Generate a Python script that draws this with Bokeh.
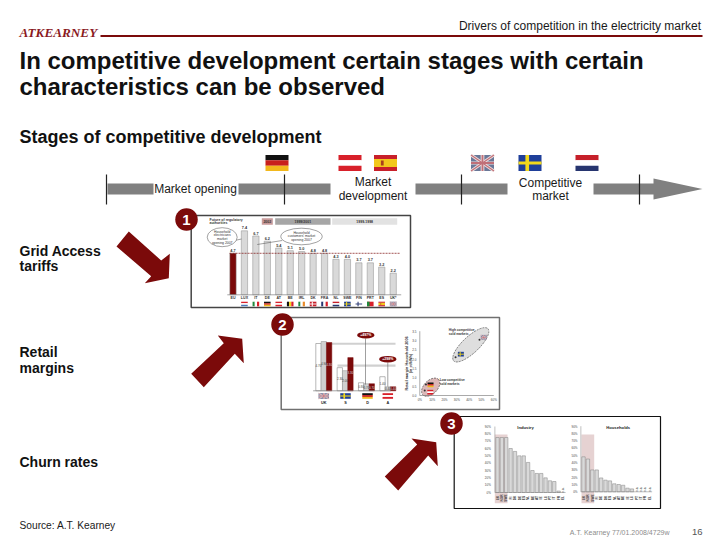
from math import pi
from bokeh.plotting import figure
from bokeh.models import Range1d
from bokeh.core.properties import value
from bokeh.embed import file_html
from bokeh.resources import INLINE

W, H = 720, 540
OFF = 0
DARK = "#7b0a0a"

# ---- data ----
p1_cats = ["EU", "LUX", "IT", "DE", "AT", "BE", "IRL", "DK", "FRA", "NL", "SWE", "FIN", "PRT", "ES", "UK*"]
p1_vals = [4.8, 7.4, 6.8, 6.2, 5.4, 5.1, 5.0, 4.8, 4.8, 4.1, 4.1, 3.7, 3.7, 3.2, 2.5]
p1_labels = ["4.7", "7.4", "6.7", "6.2", "5.4", "5.1", "5.0", "4.8", "4.8", "4.3", "4.0", "3.7", "3.7", "3.2", "2.2"]
p1_flags = [None, "LU", "IT", "DE", "AT", "BE", "IE", "DK", "FR", "NL", "SE", "FI", "PT", "ES", "GB"]

p2_cats = ["UK", "S", "D", "A"]
p2_flags = ["GB", "SE", "DE", "AT"]
p2_white = [4.7, 2.3, 0.8, 1.4]
p2_gray = [4.9, 2.0, 0.7, 0.4]
p2_red = [4.8, 3.3, 0.7, 0.4]

sc_xticks = [0, 10, 20, 30, 40, 50, 60]
sc_yticks = [0, 0.5, 1.0, 1.5, 2.0, 2.5, 3.0, 3.5]
sc_flag_x = [51.9, 33.3, 8.7, 8.5]
sc_flag_y = [3.17, 2.25, 0.58, 0.18]
sc_flag_c = ["GB", "SE", "DE", "AT"]
sc_dot_x = [48.4, 29.0, 4.0, 5.0]
sc_dot_y = [3.03, 2.08, 0.27, 0.6]

p3_ticks = [0, 10, 20, 30, 40, 50, 60, 70, 80, 90]
ind_cats = ["UK", "NOR", "SWE", "FI", "DK", "DE", "ES", "NL", "BE", "AT", "IE", "LU", "PT", "IT", "FR", "EL"]
ind_vals = [75, 75, 75, 60, 56, 50, 50, 41, 30, 26, 26, 20, 16, 15, 2, 0]
hh_cats = ["UK", "NOR", "SWE", "FI", "DE", "DK", "ES", "NL", "AT", "BE", "IE", "LU", "PT", "IT", "FR", "EL"]
hh_vals = [48, 45, 30, 30, 19, 16, 15, 11, 10, 9, 5, 4, 0, 0, 0, 0]

# ---- canvas: main range is reference pixels ----
p = figure(width=W, height=H, output_backend="svg", toolbar_location=None,
           x_range=Range1d(OFF, OFF + W), y_range=Range1d(OFF + H, OFF),
           x_axis_location=None, y_axis_location=None, min_border=0,
           background_fill_color="white", border_fill_color="white")
p.grid.visible = False
p.outline_line_color = None


def xr(v0, p0, v1, p1):
    k = (v1 - v0) / (p1 - p0)
    return Range1d(v0 + (OFF - p0) * k, v0 + (OFF + W - p0) * k)


def yr(v0, p0, v1, p1):
    k = (v1 - v0) / (p1 - p0)
    return Range1d(v0 + (OFF + H - p0) * k, v0 + (OFF - p0) * k)


p.extra_x_ranges = {
    "p1": xr(0, 232.5, 14, 392.7), "p2": xr(0, 323.3, 3, 387.3),
    "sc": xr(0, 419.3, 60, 493.3), "ind": xr(0, 497, 15, 562.5),
    "hh": xr(0, 583, 15, 649),
}
p.extra_y_ranges = {
    "p1": yr(0, 294.3, 7.4, 230.3), "p2": yr(0, 390.3, 4.9, 341),
    "sc": yr(0, 395, 3.5, 330.7), "ind": yr(0, 492, 90, 426),
    "hh": yr(0, 491.3, 90, 425.7),
}


def t(x, y, s, size, color="#1a1a1a", bold=False, align="left", font="Liberation Sans",
      angle=0, italic=False, **kw):
    style = "bold italic" if bold and italic else "bold" if bold else "italic" if italic else "normal"
    p.text([x], [y], text=[s], text_font=value(font), text_font_size=f"{size}px",
           text_color=color, text_font_style=style, text_align=align,
           text_baseline="middle", angle=angle, **kw)


def rect(x0, y0, x1, y1, fill, line=None, lw=0.5):
    p.quad(left=[x0], right=[x1], top=[y0], bottom=[y1], fill_color=fill,
           line_color=line, line_width=lw)


def flag(code, cx, cy, w, h):
    x0, y0, x1, y1 = cx - w / 2, cy - h / 2, cx + w / 2, cy + h / 2
    def hb(*cols):
        for i, c in enumerate(cols):
            rect(x0, y0 + h * i / len(cols), x1, y0 + h * (i + 1) / len(cols), c)
    def vb(*cols):
        for i, c in enumerate(cols):
            rect(x0 + w * i / len(cols), y0, x0 + w * (i + 1) / len(cols), y1, c)
    def cross(bg, fg):
        rect(x0, y0, x1, y1, bg)
        rect(x0 + w * 0.3, y0, x0 + w * 0.46, y1, fg)
        rect(x0, y0 + h * 0.4, x1, y0 + h * 0.6, fg)
    if code == "DE": hb("#111111", "#c8201c", "#f2b81c")
    elif code == "AT": hb("#d8202a", "#ffffff", "#d8202a")
    elif code == "NL": hb("#c6202a", "#ffffff", "#27356f")
    elif code == "LU": hb("#d8202a", "#ffffff", "#4b78b8")
    elif code == "IT": vb("#1f8a3c", "#ffffff", "#d8202a")
    elif code == "BE": vb("#111111", "#f2d81c", "#d8202a")
    elif code == "IE": vb("#1f8a3c", "#ffffff", "#e88a2a")
    elif code == "FR": vb("#27356f", "#ffffff", "#d8202a")
    elif code == "PT":
        rect(x0, y0, x1, y1, "#d8202a"); rect(x0, y0, x0 + w * 0.4, y1, "#1f8a3c")
    elif code == "DK": cross("#c8202a", "#ffffff")
    elif code == "FI": cross("#ffffff", "#27356f")
    elif code == "SE": cross("#1f3f9a", "#f2d81c")
    elif code == "ES":
        hb("#c8202a", "#f2c81c", "#f2c81c", "#c8202a")
        rect(x0 + w * 0.3, cy - h * 0.15, x0 + w * 0.42, cy + h * 0.15, "#a8401c")
    elif code == "GB":
        rect(x0, y0, x1, y1, "#6a7898")
        p.multi_line([[x0, x1], [x0, x1]], [[y0, y1], [y1, y0]], line_color="#f0e0e0", line_width=h * 0.18)
        rect(x0 + w * 0.42, y0, x0 + w * 0.58, y1, "#f0e0e0")
        rect(x0, y0 + h * 0.4, x1, y0 + h * 0.6, "#f0e0e0")
        p.multi_line([[x0, x1], [x0, x1]], [[y0, y1], [y1, y0]], line_color="#c07078", line_width=h * 0.08)
        rect(x0 + w * 0.46, y0, x0 + w * 0.54, y1, "#c07078")
        rect(x0, y0 + h * 0.44, x1, y0 + h * 0.56, "#c07078")


def badge(cx, cy, s):
    p.ellipse([cx], [cy], width=22.5, height=22.5, fill_color=DARK, line_color=None)
    t(cx, cy + 0.5, s, 15, "white", True, "center")


def poly(xs, ys):
    p.patch(xs, ys, fill_color=DARK, line_color=None)


# ---- header ----
t(700.5, 25, "Drivers of competition in the electricity market", 12, "#1a1a1a", align="right")
t(19, 32, "ATKEARNEY", 13.2, "#8a1a1e", True, font="Liberation Serif", italic=True)
p.line([100, 702], [35.5, 35.5], line_color=DARK, line_width=2)
t(19, 60, "In competitive development certain stages with certain", 24, "#111111", True)
t(19, 85.5, "characteristics can be observed", 24, "#111111", True)
t(19, 136, "Stages of competitive development", 18, "#111111", True)

# ---- timeline ----
G = "#808080"
for a, b in [(107, 153), (238, 330), (415, 507), (593, 654)]:
    rect(a, 183, b, 194, G)
p.patch([653, 653, 702, 653], [178, 199, 188.5, 178], fill_color=G, line_color=None)
for x in (106, 284, 461, 639):
    p.line([x, x], [174, 204], line_color="#222222", line_width=1.2)
t(195, 188.5, "Market opening", 12, align="center")
t(372.5, 181.5, "Market", 12, align="center")
t(372.5, 195, "development", 12, align="center")
t(550, 182, "Competitive", 12, align="center")
t(550, 195, "market", 12, align="center")
for c, x in zip(["DE", "AT", "ES", "GB", "SE", "NL"], [276.5, 349.5, 385, 482, 529.5, 586.5]):
    flag(c, x, 162.5, 23, 16)

# ---- side labels ----
for x, y, s in [(19, 250, "Grid Access"), (19, 265, "tariffs"), (19, 351, "Retail"), (19, 367, "margins"), (19, 461, "Churn rates")]:
    t(x, y, s, 14, "#111111", True)
t(19, 525, "Source: A.T. Kearney", 10.2)
t(669, 532, "A.T. Kearney 77/01.2008/4729w", 7, "#8c8c8c", align="right")
t(702, 531, "16", 9.5, "#555555", align="right")

# ---- arrows ----
poly([128.3, 160.7, 169.3, 168.3, 144.3, 150.7, 116], [231, 260, 253.3, 277.7, 282.7, 275.7, 246])
poly([190.7, 203.3, 234.3, 243.3, 241.7, 217.3, 223.3], [373.3, 386.7, 353.3, 362.7, 338.3, 335, 342.7])
poly([384.3, 397.7, 427.7, 437.3, 435.7, 411, 416.7], [476, 490, 455, 465.7, 441.7, 438, 444])

# ---- panel frames ----
p.quad(left=[190.7], right=[410], top=[215], bottom=[307], fill_color="white", line_color="#444444", line_width=1.5)
p.quad(left=[280.7], right=[499], top=[317], bottom=[409], fill_color="white", line_color="#707070", line_width=1.5)
p.quad(left=[453.7], right=[660], top=[416], bottom=[508], fill_color="white", line_color="#111111", line_width=1.2)
badge(186, 219, "1")
badge(282, 324, "2")
badge(451, 423, "3")

# ---- panel 1 ----
px1 = dict(x_range_name="p1", y_range_name="p1")
idx1 = list(range(len(p1_vals)))
colors1 = [DARK] + ["#d9d9d9"] * (len(p1_vals) - 1)
p.vbar(x=idx1, top=p1_vals, bottom=0, width=0.55, fill_color=colors1, line_color="#8c8c8c", line_width=0.5, **px1)
p.line([-0.3, 14.6], [p1_vals[0], p1_vals[0]], line_color=DARK, line_width=0.7, line_dash="2 1", **px1)
p.line([-0.5, 14.7], [0, 0], line_color="#808080", line_width=0.7, **px1)
p.text(idx1, [v + 0.33 for v in p1_vals], text=p1_labels, text_font=value("Liberation Sans"), text_font_size="3.8px",
       text_font_style="bold", text_color="#333333", text_align="center", text_baseline="middle", **px1)
p.text(idx1, [297.5] * 15, text=p1_cats, text_font=value("Liberation Sans"), text_font_size="3.6px",
       text_font_style="bold", text_color="#333333", text_align="center", text_baseline="middle", x_range_name="p1")
for i, c in enumerate(p1_flags):
    if c:
        flag(c, 232.5 + i * 11.44, 303.5, 6.6, 4.6)
t(209, 219, "Future of regulatory", 3.5, "#333333", True)
t(209, 222.7, "authorities", 3.5, "#333333", True)
rect(261.3, 217.7, 272.3, 224.3, "#c89a9a")
rect(274.7, 217.7, 330, 224.3, "#a6a6a6")
rect(331.7, 217.7, 396.7, 224.3, "#e2e2e2")
t(266.8, 221, "2002", 3.5, "#333333", True, "center")
t(302.3, 221, "1999/2001", 3.5, "#333333", True, "center")
t(364.2, 221, "1999-1998", 3.5, "#333333", True, "center")
p.line([234, 241], [240, 238.5], line_color="#444444", line_width=0.5)
p.ellipse([221.7], [236.7], width=30, height=19, fill_color="white", line_color="#444444", line_width=0.5)
for y, s in zip([231.3, 234.9, 238.5, 242.1], ["Household", "electricians", "market", "opening 2007"]):
    t(221.7, y, s, 3.4, "#333333", align="center")
p.line([281.7, 256.7], [240, 244], line_color="#444444", line_width=0.5)
p.ellipse([301], [236], width=41.4, height=16.6, fill_color="white", line_color="#444444", line_width=0.5)
for y, s in zip([232.2, 235.8, 239.4], ["Household", "customers' market", "opening 2007"]):
    t(301, y, s, 3.4, "#333333", align="center")

# ---- panel 2 bars ----
px2 = dict(x_range_name="p2", y_range_name="p2")
idx2 = list(range(4))
rect(323, 342.3, 395, 344.3, "#d0d0d0")
rect(337, 364, 395, 366.3, "#d0d0d0")
bw = 0.25
p.vbar(x=[i - bw for i in idx2], top=p2_white, bottom=0, width=bw, fill_color="white", line_color="#707070", line_width=0.5, **px2)
p.vbar(x=idx2, top=p2_gray, bottom=0, width=bw, fill_color="#d0d0d0", line_color="#909090", line_width=0.5, **px2)
p.vbar(x=[i + bw for i in idx2], top=p2_red, bottom=0, width=bw, fill_color=DARK, line_color=DARK, line_width=0.5, **px2)
for off, vals, col in [(-bw, p2_white, "#444444"), (0, p2_gray, "#444444"), (bw, p2_red, "#dddddd")]:
    p.text([i + off for i in idx2], [v * 0.55 for v in vals], text=[f"{v:.2f}" for v in vals],
           text_font=value("Liberation Sans"), text_font_size="3px", text_color=col,
           text_align="center", text_baseline="middle", **px2)
p.line([-0.5, 3.15], [0, 0], line_color="#808080", line_width=0.7, **px2)
p.line([365, 365], [338, 384], line_color="#606060", line_width=0.6)
p.line([387.3, 387.3], [362, 386], line_color="#606060", line_width=0.6)
for cx, cy, s in [(365.3, 334.7, "+497%"), (387.3, 358.7, "+298%")]:
    p.ellipse([cx], [cy], width=17.4, height=6.6, fill_color=DARK, line_color=None)
    t(cx, cy, s, 3.5, "white", True, "center")
for i, (c, l) in enumerate(zip(p2_flags, p2_cats)):
    flag(c, [323.3, 345, 367, 387.3][i], 395.5, 10.5, 5.6)
    t([323.3, 345, 367, 387.3][i], 402.7, l, 3.8, "#222222", True, "center")

# ---- panel 2 scatter ----
sc = dict(x_range_name="sc", y_range_name="sc")
p.ellipse([470.3], [344.3], width=47, height=16.5, angle=pi / 4 * 0.96, fill_color="#dedede", line_color="#333333",
          line_width=0.6, line_dash="2 1")
p.ellipse([430.2], [386.7], width=22, height=13.5, angle=pi / 4, fill_color="#dcb8b8", line_color="#333333",
          line_width=0.6, line_dash="2 1")
p.line([0, 0], [0, 3.5], line_color="#707070", line_width=0.6, **sc)
p.line([0, 60], [0, 0], line_color="#707070", line_width=0.6, **sc)
p.text(sc_xticks, [399.3] * 7, text=[f"{v}%" for v in sc_xticks], text_font=value("Liberation Sans"), text_font_size="3px",
       text_color="#444444", text_align="center", text_baseline="middle", x_range_name="sc")
p.text([416] * 8, sc_yticks, text=[f"{v:.1f}" for v in sc_yticks], text_font=value("Liberation Sans"), text_font_size="3px",
       text_color="#444444", text_align="right", text_baseline="middle", y_range_name="sc")
p.scatter(sc_dot_x, sc_dot_y, size=2, fill_color="#333333", line_color=None, **sc)
for c, fx, fy in zip(sc_flag_c, sc_flag_x, sc_flag_y):
    flag(c, 419.3 + fx * 74 / 60, 395 - fy * 64.3 / 3.5, 6, 4.7)
t(406, 363, "Retail margin Household 2006", 3.8, "#333333", True, "center", angle=pi / 2)
t(410, 363, "(in ct/kWh)", 3.8, "#333333", True, "center", angle=pi / 2)
t(448.3, 329, "High competitive", 3.2, "#333333", True)
t(448.3, 333, "sold markets", 3.2, "#333333", True)
t(439.3, 379.3, "Low competitive", 3.2, "#333333", True)
t(439.3, 382.9, "sold markets", 3.2, "#333333", True)

# ---- panel 3 ----
for name, vals, cats, ax, title, tx, band, xk in [
    ("ind", ind_vals, ind_cats, 494.3, "Industry", 525, (494.3, 507), 497),
    ("hh", hh_vals, hh_cats, 581, "Households", 617.7, (581, 593.7), 583),
]:
    rect(band[0], 434, band[1], 502.7, "#e6d2d2")
    r = dict(x_range_name=name, y_range_name=name)
    idx = list(range(len(vals)))
    bars = [i for i in idx if vals[i] > 0]
    p.vbar(x=bars, top=[vals[i] for i in bars], bottom=0, width=0.78, fill_color="#d9d9d9", line_color="#808080", line_width=0.5, **r)
    p.line([-0.6, 15.6], [0, 0], line_color="#808080", line_width=0.5, **r)
    p.line([-0.6, -0.6], [0, 90], line_color="#808080", line_width=0.5, **r)
    p.text([ax - 4] * 10, p3_ticks, text=[f"{v}%" for v in p3_ticks], text_font=value("Liberation Sans"),
           text_font_size="3px", text_color="#444444", text_align="right", text_baseline="middle", y_range_name=name)
    p.text(idx, [497.5] * 16, text=cats, text_font=value("Liberation Sans"), text_font_size="3.2px",
           text_font_style="bold", text_color="#333333", text_align="center", text_baseline="middle",
           angle=pi / 2, x_range_name=name)
    for i in idx:
        if vals[i] == 0:
            p.text([i], [3.5], text=["n.a."], text_font=value("Liberation Sans"), text_font_size="3px",
                   text_color="#333333", text_align="center", text_baseline="middle", angle=pi / 2, **r)
    t(tx, 426.5, title, 4.2, "#222222", True, "center")

open("out.html", "w").write(file_html(p, INLINE))
